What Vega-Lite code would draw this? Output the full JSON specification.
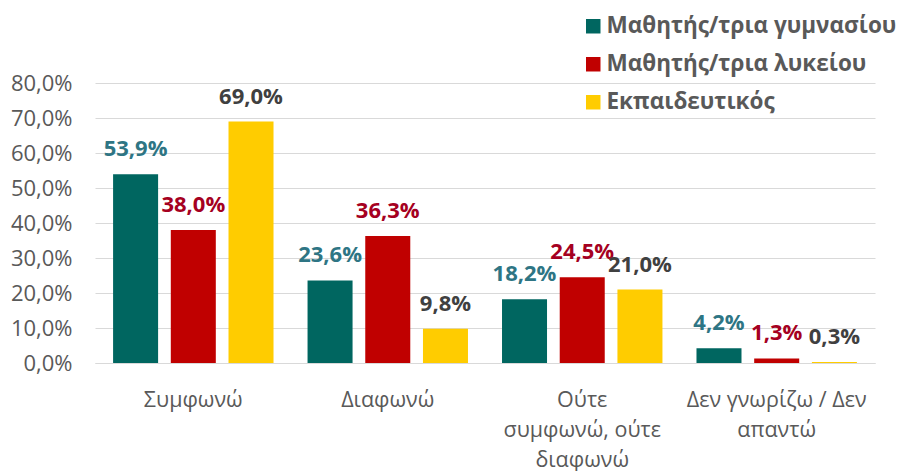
{
  "$schema": "https://vega.github.io/schema/vega-lite/v6.json",
  "autosize": "none",
  "width": 780,
  "height": 280,
  "padding": {"left": 95, "top": 83, "right": 27, "bottom": 108},
  "background": "white",
  "config": {
    "locale": {"number": {"decimal": ",", "thousands": ".", "grouping": [3], "currency": ["", " €"]}},
    "view": {"stroke": null},
    "font": "Open Sans"
  },
  "data": {
    "values": [
      {"cat": "Συμφωνώ", "series": "Μαθητής/τρια γυμνασίου", "value": 0.539},
      {"cat": "Συμφωνώ", "series": "Μαθητής/τρια λυκείου", "value": 0.380},
      {"cat": "Συμφωνώ", "series": "Εκπαιδευτικός", "value": 0.690},
      {"cat": "Διαφωνώ", "series": "Μαθητής/τρια γυμνασίου", "value": 0.236},
      {"cat": "Διαφωνώ", "series": "Μαθητής/τρια λυκείου", "value": 0.363},
      {"cat": "Διαφωνώ", "series": "Εκπαιδευτικός", "value": 0.098},
      {"cat": "Ούτε|συμφωνώ, ούτε|διαφωνώ", "series": "Μαθητής/τρια γυμνασίου", "value": 0.182},
      {"cat": "Ούτε|συμφωνώ, ούτε|διαφωνώ", "series": "Μαθητής/τρια λυκείου", "value": 0.245},
      {"cat": "Ούτε|συμφωνώ, ούτε|διαφωνώ", "series": "Εκπαιδευτικός", "value": 0.210},
      {"cat": "Δεν γνωρίζω / Δεν|απαντώ", "series": "Μαθητής/τρια γυμνασίου", "value": 0.042},
      {"cat": "Δεν γνωρίζω / Δεν|απαντώ", "series": "Μαθητής/τρια λυκείου", "value": 0.013},
      {"cat": "Δεν γνωρίζω / Δεν|απαντώ", "series": "Εκπαιδευτικός", "value": 0.003}
    ]
  },
  "encoding": {
    "x": {
      "field": "cat", "type": "nominal", "sort": null, "title": null,
      "scale": {"paddingInner": 0.175, "paddingOuter": 0.093},
      "axis": {
        "labelAngle": 0, "ticks": false, "domainColor": "#D9D9D9", "domainWidth": 1,
        "labelFontSize": 21.5, "labelColor": "#595959", "labelPadding": 26,
        "labelBaseline": "top", "labelLineHeight": 30,
        "labelExpr": "split(datum.label, '|')", "labelLimit": 300
      }
    },
    "xOffset": {
      "field": "series", "type": "nominal", "sort": null,
      "scale": {"paddingInner": 0.22, "paddingOuter": 0}
    },
    "y": {
      "field": "value", "type": "quantitative", "title": null,
      "scale": {"domain": [0, 0.8], "nice": false},
      "axis": {
        "format": ".1%", "values": [0, 0.1, 0.2, 0.3, 0.4, 0.5, 0.6, 0.7, 0.8],
        "labelOverlap": false,
        "domain": false, "ticks": false, "gridColor": "#D9D9D9", "gridWidth": 1,
        "labelFontSize": 22, "labelColor": "#595959", "labelPadding": 23
      }
    }
  },
  "layer": [
    {
      "mark": {"type": "bar"},
      "encoding": {
        "color": {
          "field": "series", "type": "nominal", "sort": null, "title": null,
          "scale": {
            "domain": ["Μαθητής/τρια γυμνασίου", "Μαθητής/τρια λυκείου", "Εκπαιδευτικός"],
            "range": ["#006660", "#C00000", "#FFCC00"]
          },
          "legend": {
            "orient": "none", "legendX": 487, "legendY": -68,
            "symbolType": "square", "symbolSize": 210, "symbolStrokeWidth": 0,
            "labelFontSize": 22.5, "labelFontWeight": "bold", "labelColor": "#595959",
            "labelOffset": 2, "rowPadding": 15, "labelLimit": 400
          }
        }
      }
    },
    {
      "mark": {"type": "text", "baseline": "middle", "dy": -25, "fontSize": 22, "fontWeight": "bold"},
      "encoding": {
        "text": {"field": "value", "type": "quantitative", "format": ".1%"},
        "color": {
          "field": "series", "type": "nominal", "sort": null, "legend": null,
          "scale": {
            "domain": ["Μαθητής/τρια γυμνασίου", "Μαθητής/τρια λυκείου", "Εκπαιδευτικός"],
            "range": ["#2E7584", "#A50021", "#404040"]
          }
        }
      }
    }
  ],
  "resolve": {"scale": {"color": "independent"}}
}
